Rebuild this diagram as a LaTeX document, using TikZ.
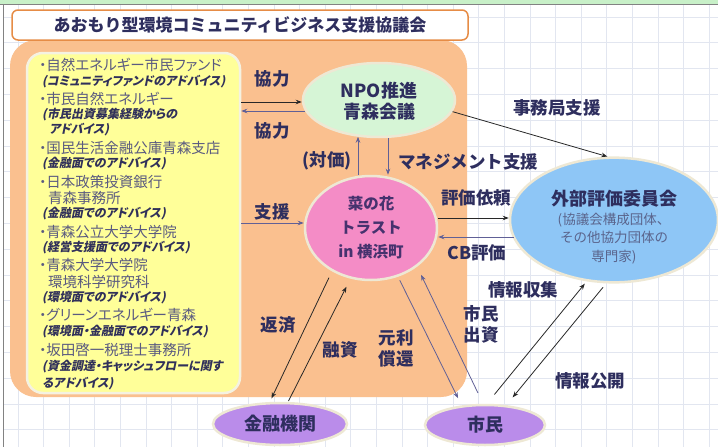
\documentclass[tikz,border=0pt]{standalone}
\usepackage{fontspec}
\setmainfont{Noto Sans CJK JP}
\newfontfamily\jpp{Noto Sans CJK JP}[RawFeature=+palt]
\newfontfamily\jpsl{Noto Sans CJK JP}[FakeSlant=0.2,RawFeature=+palt]
\usetikzlibrary{shapes.geometric,arrows.meta,calc}
\definecolor{gridc}{RGB}{226,230,240}
\definecolor{topg}{RGB}{200,240,200}
\definecolor{edgeg}{RGB}{130,130,130}
\definecolor{orangec}{RGB}{250,192,143}
\definecolor{orangeb}{RGB}{230,140,70}
\definecolor{yellowc}{RGB}{255,255,153}
\definecolor{yellowb}{RGB}{245,242,225}
\definecolor{creamb}{RGB}{238,232,212}
\definecolor{greenc}{RGB}{214,245,214}
\definecolor{pinkc}{RGB}{244,140,198}
\definecolor{bluec}{RGB}{142,198,246}
\definecolor{violetc}{RGB}{186,140,234}
\definecolor{navyc}{RGB}{46,46,94}
\definecolor{itemc}{RGB}{90,90,128}
\definecolor{subc}{RGB}{48,48,90}
\definecolor{darkarr}{RGB}{40,40,40}
\definecolor{purparr}{RGB}{96,96,150}
\definecolor{nanac}{RGB}{70,50,110}
\definecolor{gaisubc}{RGB}{90,100,140}
\begin{document}
\begin{tikzpicture}[x=1pt,y=-1pt,
  gridline/.style={draw=gridc,line width=0.8pt},
  ell/.style={ellipse,draw=creamb,line width=2.5pt,inner sep=0pt,align=center,text=navyc},
  lbl/.style={inner sep=1pt,text=navyc,font=\fontsize{17.5}{21}\selectfont\bfseries,align=center},
  item/.style={anchor=west,inner sep=0pt,text=itemc,font=\jpp\fontsize{14.5}{16}\selectfont},
  note/.style={anchor=west,inner sep=0pt,text=subc,font=\jpsl\bfseries\fontsize{12}{13}\selectfont},
  arrd/.style={draw=darkarr,line width=0.8pt,-{Stealth[length=6pt,width=4.5pt]}},
  arrp/.style={draw=purparr,line width=0.8pt,-{Stealth[length=6pt,width=4.5pt]}}
]
\useasboundingbox (0,0) rectangle (718,447);
\fill[white] (0,0) rectangle (718,447);
% grid
\foreach \k in {0,...,27} \draw[gridline] ({18+25.6*\k},4.5) -- ({18+25.6*\k},447);
\foreach \k in {0,...,17} \draw[gridline] (3,{17+25.8*\k}) -- (718,{17+25.8*\k});
\fill[topg] (0,0) rectangle (718,4);
\draw[edgeg,line width=1pt] (0,4.5) -- (718,4.5);
\draw[edgeg,line width=1pt] (3,4.5) -- (3,447);
% orange area
\fill[orangec,rounded corners=26pt] (10,40) rectangle (467,397);
% title
\node[draw=orangeb,line width=1.5pt,fill=white,rounded corners=6pt,minimum width=456pt,minimum height=30pt,inner sep=0pt,text=navyc,font=\fontsize{17}{20}\selectfont\bfseries] (title) at (240,25) {あおもり型環境コミュニティビジネス支援協議会};
% yellow box
\node[draw=yellowb,line width=2.5pt,fill=yellowc,rounded corners=16pt,minimum width=213pt,minimum height=340pt,inner sep=0pt] (yb) at (133.5,223) {};
% list
\node[item] (l1) at (39,65) {・自然エネルギー市民ファンド};
\node[note] (l2) at (42,82) {(コミュニティファンドのアドバイス)};
\node[item] (l3) at (39,99) {・市民自然エネルギー};
\node[note] (l4) at (42,115) {(市民出資募集経験からの};
\node[note] (l5) at (49,130) {アドバイス)};
\node[item] (l6) at (39,148) {・国民生活金融公庫青森支店};
\node[note] (l7) at (42,164) {(金融面でのアドバイス)};
\node[item] (l8) at (39,182) {・日本政策投資銀行};
\node[item] (l9) at (48,198) {青森事務所};
\node[note] (l10) at (42,214) {(金融面でのアドバイス)};
\node[item] (l11) at (39,232) {・青森公立大学大学院};
\node[note] (l12) at (42,248) {(経営支援面でのアドバイス)};
\node[item] (l13) at (39,265) {・青森大学大学院};
\node[item] (l14) at (48,282) {環境科学研究科};
\node[note] (l15) at (42,298) {(環境面でのアドバイス)};
\node[item] (l16) at (39,315) {・グリーンエネルギー青森};
\node[note] (l17) at (42,332) {(環境面・金融面でのアドバイス)};
\node[item] (l18) at (39,350) {・坂田啓一税理士事務所};
\node[note] (l19) at (42,367) {(資金調達・キャッシュフローに関す};
\node[note] (l20) at (42,384) {るアドバイス)};
% ellipses
\node[ell,fill=greenc,minimum width=152pt,minimum height=74pt,font=\fontsize{18}{21}\selectfont\bfseries] (npo) at (379,100) {\rule{0pt}{18pt}NPO推進\\青森会議};
\node[ell,fill=pinkc,minimum width=132pt,minimum height=104pt,text=nanac,font=\fontsize{15.5}{24}\selectfont\bfseries] (nana) at (371,228) {菜の花\\トラスト\\in 横浜町};
\node[ell,fill=bluec,minimum width=208pt,minimum height=106pt,font=\fontsize{13.5}{18.5}\selectfont] (gai) at (614,220) {{\fontsize{18}{18.5}\selectfont\bfseries\rule{0pt}{30pt}外部評価委員会}\\\textcolor{gaisubc}{(協議会構成団体、}\\\textcolor{gaisubc}{その他協力団体の}\\\textcolor{gaisubc}{専門家)}};
\node[ell,fill=violetc,minimum width=134pt,minimum height=42pt,font=\fontsize{18}{21}\selectfont\bfseries] (kin) at (280,424) {金融機関};
\node[ell,fill=violetc,minimum width=120pt,minimum height=40pt,font=\fontsize{18}{21}\selectfont\bfseries] (shicho) at (485,425) {市民};
% arrows
\draw[arrd] (yb.east |- 0,102) -- (npo.west |- 0,102);
\draw[arrp] ($(npo.west |- 0,111)+(3,0)$) -- (yb.east |- 0,111);
\draw[arrp] (nana.north -| 358,0) -- ($(npo.south -| 358,0)+(0,-1.5)$);
\draw[arrp] (npo.south -| 388,0) -- (nana.north -| 388,0);
\draw[arrd] (npo.-9) -- (gai.96);
\draw[arrd] (nana.east |- 0,218) -- (gai.west |- 0,218);
\draw[arrp] ($(gai.west |- 0,237)+(5,0)$) -- (nana.east |- 0,237);
\draw[arrp] (yb.east |- 0,223) -- (nana.west |- 0,223);
\draw[arrd,shorten <=7pt,shorten >=4pt] (nana.228) -- (kin.115);
\draw[arrd,shorten <=1pt,shorten >=9pt] (kin.70) -- (nana.248);
\draw[arrp,shorten <=4pt,shorten >=8pt] (nana.299) -- (shicho.140);
\draw[arrp,shorten <=12pt,shorten >=9pt] (shicho.95) -- (nana.320);
\draw[arrd,shorten <=12pt,shorten >=3pt] (shicho.85) -- (gai.246);
\draw[arrd,shorten <=5pt,shorten >=10pt] (gai.263) -- (shicho.43);
% labels
\node[lbl] (t1) at (272,79) {協力};
\node[lbl] (t2) at (272,131) {協力};
\node[lbl] (t3) at (327,161) {(対価)};
\node[lbl] (t4) at (468,162) {マネジメント支援};
\node[lbl] (t5) at (557,108) {事務局支援};
\node[lbl] (t6) at (476,198) {評価依頼};
\node[lbl] (t7) at (477,253) {CB評価};
\node[lbl] (t8) at (272,212) {支援};
\node[lbl] (t9) at (278,325) {返済};
\node[lbl] (t10) at (340,350) {融資};
\node[lbl] (t11) at (396,348) {元利\\償還};
\node[lbl] (t12) at (481,324) {市民\\出資};
\node[lbl] (t13) at (523,290) {情報収集};
\node[lbl] (t14) at (590,381) {情報公開};
\end{tikzpicture}
\end{document}
